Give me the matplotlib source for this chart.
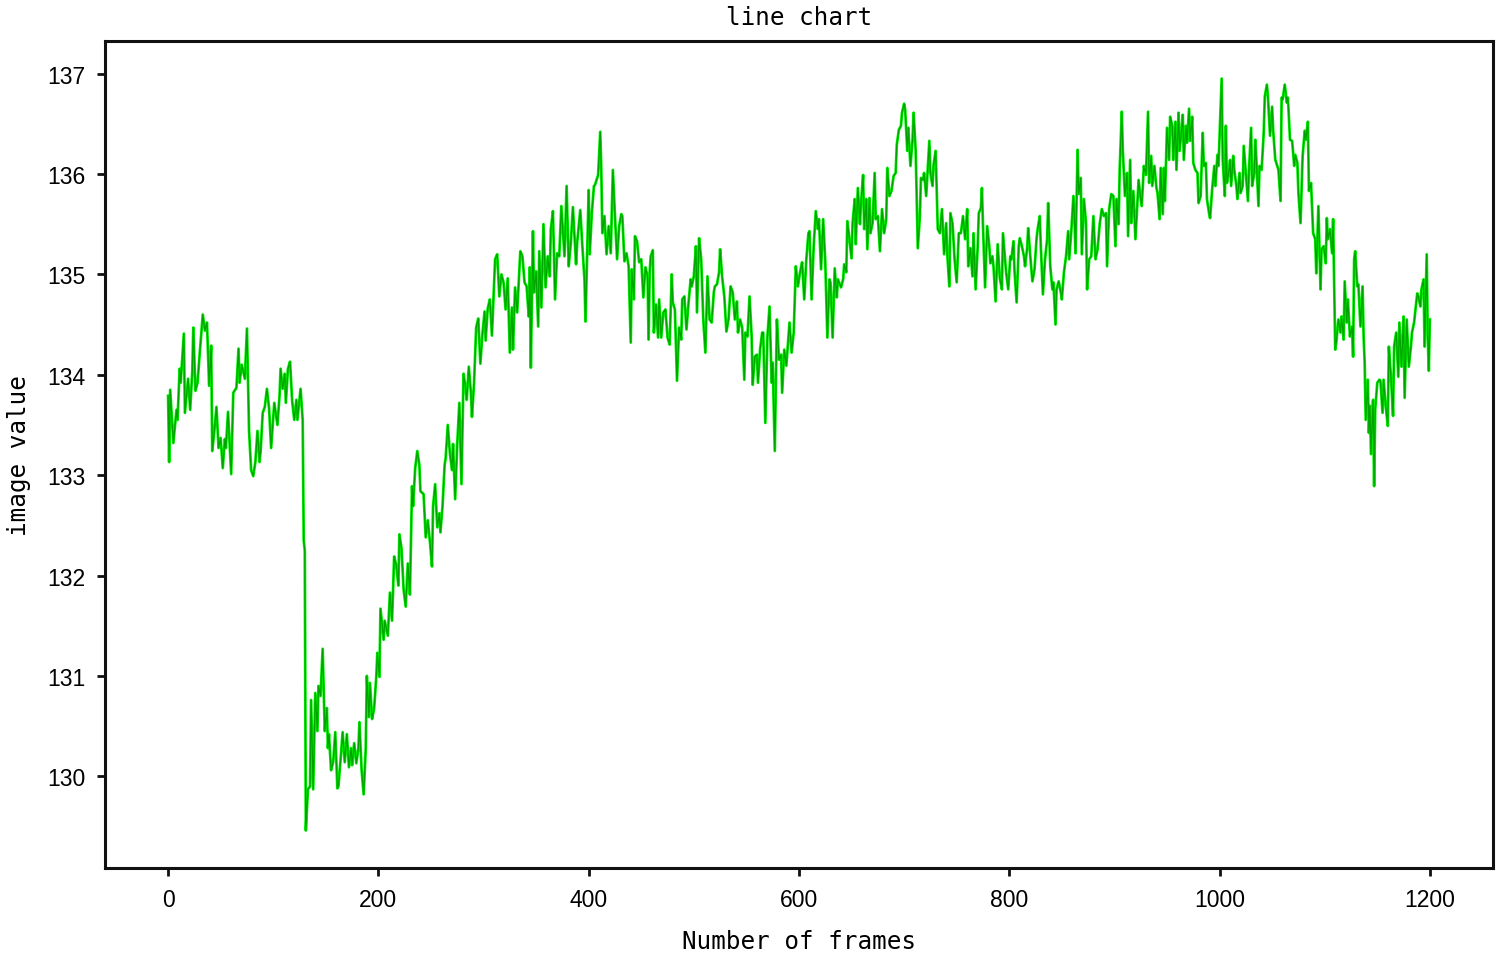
import matplotlib
matplotlib.use("Agg")
import matplotlib.pyplot as plt

frames = [
    0, 1, 2, 5, 8, 9, 11, 12, 15, 16, 19, 21, 23, 24, 26, 28, 30, 33, 35, 37, 39, 41, 42, 44, 46, 48, 50, 52, 54, 55,
    57, 60, 62, 65, 67, 68, 70, 73, 75, 77, 79, 81, 83, 85, 87, 88, 90, 92, 94, 96, 98, 101, 104, 106, 107, 109, 111,
    112, 114, 116, 118, 120, 122, 123, 126, 128, 129, 130, 131, 133, 135, 136, 138, 140, 142, 143, 145, 147, 149, 151,
    152, 153, 155, 157, 159, 161, 162, 164, 166, 168, 170, 172, 174, 175, 177, 179, 181, 182, 184, 186, 188, 189, 191,
    192, 194, 196, 198, 199, 201, 202, 205, 206, 209, 211, 213, 215, 217, 219, 220, 222, 224, 226, 228, 230, 232, 233,
    235, 237, 239, 240, 243, 245, 247, 249, 251, 252, 254, 256, 258, 259, 261, 263, 264, 266, 268, 270, 271, 273, 275,
    277, 279, 281, 283, 284, 286, 288, 289, 291, 293, 295, 296, 297, 299, 301, 302, 304, 306,
    308, 311, 313, 315, 317, 319, 321, 323, 325, 327, 328, 330, 332, 335, 337, 339, 341, 343, 344, 345, 347, 348, 350,
    352, 353, 355, 357, 359, 361, 363, 364, 366, 368, 370, 372, 374, 377, 379, 381, 383, 385, 388, 389, 392, 394, 396,
    397, 400, 401, 403, 405, 406, 409, 411, 412, 413, 415, 417, 419, 421, 423, 425, 427, 429, 431, 432, 434, 436, 438,
    440, 441, 443, 444, 446, 448, 450, 452, 454, 456, 457, 458, 459, 461, 462, 464, 466, 467, 469, 471, 473, 475, 477,
    479, 480, 482, 484, 486, 488, 489, 491, 493, 495, 497, 498, 500, 502, 503, 505, 507, 509, 511, 513, 515, 517, 519,
    520, 522, 524, 525, 527, 529, 531, 533, 535, 537, 539, 541, 542, 544, 546, 548, 549, 551, 553, 555, 556, 558, 560,
    561, 563, 565, 566, 568, 570, 572, 574, 575, 577, 579, 581, 583, 584, 586, 588, 590, 591, 593, 595, 597, 599, 601,
    603, 605, 607, 609,
    610, 612, 614, 616, 618, 619, 621, 623, 625, 627, 629, 630, 632, 634, 636, 637, 640, 642, 643, 645, 646, 648, 650,
    651, 653, 654, 656, 658, 659, 661, 662, 664, 665, 667, 668, 670, 672, 673, 675, 677, 679, 681, 683, 684, 686, 688,
    690, 692, 693, 695, 697, 698, 700, 701, 703, 704, 706, 708, 709, 711, 713, 715, 716, 718, 719, 721, 724, 725, 727,
    728, 730, 732, 734, 736, 738, 740, 741, 743, 744, 746, 748, 750, 752, 754, 756, 758, 760, 761, 763, 765, 766, 768,
    770, 771, 773, 774, 775, 777, 779, 781, 782, 784, 785, 787, 789, 791, 793, 794, 796, 797, 799, 801, 802, 804, 805,
    807, 809, 810, 812, 814, 815, 817, 818, 820, 822, 824, 826, 827, 829, 830, 832, 834, 836, 837, 839, 841, 842, 844,
    845, 847, 849, 850, 852, 854, 856, 857, 859, 861, 862, 863, 865, 866, 868, 869, 871, 873, 874, 876, 878, 880, 882,
    884, 886, 888, 890, 892, 893, 895, 897, 899, 901, 902, 904, 905, 907, 908, 910, 912, 913, 915,
    916, 918, 920, 922, 923, 925, 926, 928, 930, 932, 933, 935, 936, 938, 940, 941, 943, 944, 946, 947, 948, 950, 952,
    953, 955, 956, 958, 959, 961, 962, 963, 965, 966, 968, 969, 971, 972, 974, 975, 977, 979, 980, 982, 984, 985, 987,
    988, 990, 991, 993, 995, 996, 998, 999, 1002, 1003, 1005, 1006, 1007, 1009, 1010, 1011, 1013, 1014, 1016, 1017,
    1019, 1020, 1022, 1023, 1025, 1027, 1028, 1030, 1031, 1033, 1034, 1035, 1037, 1038, 1040, 1042, 1043, 1045, 1046,
    1048, 1050, 1051, 1053, 1054, 1056, 1058, 1059, 1060, 1062, 1064, 1065, 1067, 1069, 1071, 1072, 1074, 1075, 1077,
    1079, 1081, 1082, 1084, 1085, 1087, 1089, 1091, 1092, 1094, 1096, 1097, 1099, 1101, 1102, 1103, 1105, 1107, 1108,
    1110, 1111, 1113, 1115, 1116, 1118, 1119, 1121, 1122, 1124, 1126, 1127, 1128, 1129, 1131, 1132, 1134, 1136, 1137,
    1138, 1139, 1141, 1142, 1143, 1144, 1146, 1147, 1148, 1150, 1152, 1153, 1155, 1156, 1158, 1160, 1161, 1163, 1165,
    1166, 1168, 1170, 1171, 1173, 1175, 1176, 1178, 1180, 1182, 1183, 1185, 1186, 1188, 1189, 1191, 1192, 1194, 1195,
    1197, 1198, 1199, 1200,
]

values = [
    133.79, 133.13, 133.85, 133.32, 133.65, 133.55, 134.06, 133.92, 134.41, 133.62, 133.96, 133.65, 134.03, 134.47,
    133.84, 133.92, 134.20, 134.60, 134.44, 134.52, 133.89, 134.29, 133.24, 133.44, 133.68, 133.27, 133.37, 133.07,
    133.36, 133.27, 133.63, 133.01, 133.82, 133.87, 134.26, 133.92, 134.10, 133.96, 134.46, 133.44, 133.05, 132.99,
    133.13, 133.44, 133.13, 133.24, 133.62, 133.68, 133.86, 133.67, 133.27, 133.72, 133.50, 133.79, 134.06, 133.86,
    134.01, 133.72, 134.06, 134.13, 133.74, 133.55, 133.75, 133.55, 133.86, 133.55, 132.35, 132.25, 129.46, 129.87,
    129.90, 130.76, 129.87, 130.83, 130.45, 130.90, 130.80, 131.27, 130.45, 130.68, 130.28, 130.42, 130.06, 130.14,
    130.44, 129.88, 129.90, 130.16, 130.44, 130.14, 130.42, 130.09, 130.28, 130.11, 130.33, 130.13, 130.28, 130.54,
    130.07, 129.82, 130.28, 131.00, 130.59, 130.93, 130.57, 130.68, 130.99, 131.23, 130.99, 131.67, 131.36, 131.55,
    131.40, 131.83, 131.55, 132.19, 132.10, 131.90, 132.41, 132.27, 131.86, 131.69, 132.12, 131.81, 132.89, 132.69,
    133.07, 133.24, 133.10, 132.84, 132.81, 132.38, 132.55, 132.34, 132.09, 132.69, 132.91, 132.48, 132.62, 132.43,
    132.69, 133.10, 133.17, 133.50, 133.22, 133.05, 133.31, 132.76, 133.31, 133.72, 132.91, 134.01, 133.86, 133.75,
    134.08, 133.82, 133.58, 133.92, 134.47, 134.56, 134.34, 134.11, 134.41, 134.63, 134.34, 134.66, 134.75,
    134.39, 135.15, 135.20, 134.78, 135.00, 134.92, 134.65, 134.96, 134.22, 134.67, 134.25, 134.87, 134.62, 135.23,
    135.18, 134.92, 134.88, 134.58, 135.07, 134.07, 135.43, 134.82, 135.03, 134.48, 135.23, 134.67, 135.50, 134.87,
    135.18, 134.98, 135.45, 135.63, 134.75, 135.21, 135.18, 135.68, 135.18, 135.88, 135.08, 135.31, 135.67, 135.10,
    135.31, 135.64, 135.28, 134.95, 134.53, 135.84, 135.20, 135.61, 135.88, 135.89, 135.99, 136.42, 136.04, 135.41,
    135.58, 135.20, 135.48, 135.21, 136.04, 135.58, 135.15, 135.48, 135.60, 135.58, 135.13, 135.21, 135.08, 134.32,
    135.05, 134.75, 135.38, 135.33, 135.12, 135.15, 134.77, 135.07, 134.98, 134.35, 135.02, 135.18, 135.24, 134.42,
    134.70, 134.37, 134.75, 134.37, 134.62, 134.65, 134.37, 134.30, 135.00, 134.72, 134.65, 133.94, 134.47, 134.35,
    134.75, 134.78, 134.45, 134.72, 134.95, 134.88, 134.98, 135.28, 134.62, 135.36, 135.15, 134.55, 134.22, 134.98,
    134.55, 134.52, 134.82, 134.88, 134.90, 135.02, 135.25, 134.97, 134.78, 134.43, 134.55, 134.88, 134.82, 134.55,
    134.73, 134.42, 134.55, 134.47, 133.95, 134.42, 134.38, 134.78, 134.38, 133.90, 134.18, 134.20, 133.92, 134.25,
    134.42, 134.42, 133.52, 134.38, 134.68, 133.92, 134.12, 133.24, 134.55, 134.15, 134.20, 133.82, 134.25, 134.09,
    134.38, 134.52, 134.22, 134.42, 135.08, 134.88, 135.02, 135.12, 134.75, 135.15, 135.41,
    135.43, 134.75, 135.28, 135.63, 135.45, 135.55, 135.05, 135.55, 135.13, 134.37, 134.95, 134.92, 134.37, 135.06,
    134.77, 134.95, 134.87, 134.95, 135.10, 135.02, 135.53, 135.35, 135.16, 135.51, 135.75, 135.30, 135.86, 135.50,
    135.71, 135.99, 135.45, 135.75, 135.25, 135.76, 135.41, 135.51, 136.01, 135.55, 135.58, 135.23, 135.65, 135.41,
    135.55, 136.06, 135.78, 135.83, 135.98, 136.01, 136.29, 136.44, 136.48, 136.61, 136.70, 136.64, 136.23, 136.46,
    136.08, 136.34, 136.61, 136.23, 135.26, 135.58, 135.96, 135.94, 136.01, 135.78, 136.33, 136.01, 135.88, 136.09,
    136.23, 135.45, 135.41, 135.65, 135.20, 135.51, 135.21, 134.88, 135.61, 135.51, 135.15, 134.92, 135.41, 135.41,
    135.58, 135.35, 135.65, 135.08, 135.26, 134.98, 135.41, 134.85, 135.28, 135.61, 135.66, 135.86, 135.48, 134.87,
    135.48, 135.28, 135.11, 135.18, 135.08, 134.73, 135.30, 134.96, 134.85, 135.41, 135.15, 135.02, 134.85, 135.18,
    135.15, 135.33, 135.03, 134.72, 135.28, 135.36, 135.28, 135.18, 135.08, 135.26, 135.46, 135.18, 134.93, 135.05,
    135.36, 135.45, 135.58, 135.28, 134.80, 135.15, 135.35, 135.71, 135.08, 134.85, 134.92, 134.50, 134.85, 134.93,
    134.82, 134.75, 135.02, 135.18, 135.43, 135.15, 135.43, 135.78, 135.55, 135.21, 136.24, 135.80, 135.96, 135.20,
    135.75, 135.51, 134.85, 135.15, 135.18, 135.58, 135.15, 135.25, 135.50, 135.65, 135.58, 135.61, 135.08, 135.65,
    135.80, 135.78, 135.28, 135.75, 135.50, 136.04, 136.62, 136.23, 135.78, 136.01, 135.38, 136.14,
    135.51, 135.83, 135.35, 135.75, 135.94, 135.75, 135.68, 136.08, 135.99, 136.62, 135.91, 136.18, 135.88, 136.08,
    135.86, 135.81, 135.55, 136.06, 135.60, 136.06, 135.73, 136.46, 136.14, 136.57, 136.48, 136.14, 136.52, 136.04,
    136.61, 136.23, 136.34, 136.59, 136.14, 136.48, 136.31, 136.65, 136.33, 136.57, 136.11, 136.04, 136.01, 135.71,
    135.78, 136.41, 136.08, 136.11, 135.75, 135.61, 135.56, 135.85, 136.08, 135.88, 136.19, 136.08, 136.95, 136.14,
    135.78, 136.48, 135.91, 136.04, 136.14, 135.88, 136.18, 136.04, 135.88, 135.75, 136.01, 135.81, 135.88, 136.28,
    136.01, 135.73, 136.04, 136.46, 135.88, 136.01, 136.34, 136.14, 135.68, 136.08, 136.04, 136.41, 136.77, 136.89,
    136.77, 136.38, 136.67, 136.43, 136.14, 136.11, 136.04, 135.73, 136.76, 136.74, 136.89, 136.71, 136.76, 136.34,
    136.33, 136.08, 136.19, 136.11, 135.81, 135.51, 136.18, 136.43, 136.34, 136.52, 135.83, 135.91, 135.41, 135.35,
    135.01, 135.68, 134.85, 135.25, 135.28, 135.11, 135.56, 135.35, 135.45, 135.21, 135.55, 134.25, 134.32, 134.55,
    134.42, 134.58, 134.35, 134.93, 134.52, 134.75, 134.38, 134.48, 134.18, 135.15, 135.23, 134.88, 134.90, 134.48,
    134.88, 134.38, 134.12, 133.55, 133.95, 133.42, 133.69, 133.21, 133.75, 132.89, 133.65, 133.92, 133.95, 133.94,
    133.62, 133.95, 133.69, 133.49, 134.28, 133.98, 133.59, 134.28, 134.42, 133.98, 134.52, 134.08, 134.58, 133.77,
    134.55, 134.08, 134.28, 134.42, 134.52, 134.62, 134.81, 134.78, 134.68, 134.85, 134.95, 134.28, 135.20, 134.38,
    134.04, 134.55,
]

title = "line chart"
xlabel = "Number of frames"
ylabel = "image value"

label_font = "DejaVu Sans Mono"
tick_font = "Liberation Sans"

fig = plt.figure(figsize=(15, 9.54), dpi=100)
ax = fig.add_axes([0.07, 0.089, 0.9253, 0.867])

ax.plot(frames, values, color="#00f000", linewidth=2.0, solid_joinstyle="round")
ax.plot(frames, values, color="#006400", linewidth=0.9, alpha=0.55)

ax.set_title(title, fontsize=17.5, family=label_font, pad=12)
ax.set_xlabel(xlabel, fontsize=17.5, family=label_font, labelpad=13)
ax.set_ylabel(ylabel, fontsize=17.5, family=label_font, labelpad=12)

ax.set_xticks([0, 200, 400, 600, 800, 1000, 1200])
ax.set_yticks([130, 131, 132, 133, 134, 135, 136, 137])
for lab in ax.get_xticklabels() + ax.get_yticklabels():
    lab.set_fontfamily(tick_font)
    lab.set_fontsize(16.5)

ax.tick_params(axis="both", length=6, width=2, pad=8, color="#111111")
for sp in ax.spines.values():
    sp.set_linewidth(2.2)
    sp.set_color("#111111")

fig.savefig("out.png", dpi=100)
